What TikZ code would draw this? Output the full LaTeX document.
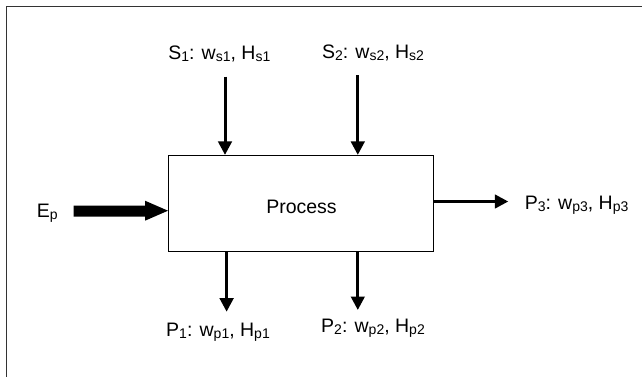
\documentclass[tikz,border=0pt]{standalone}
\usepackage{fontspec}
\setmainfont{Liberation Sans}
\usetikzlibrary{arrows.meta}
% lowered, smaller index text for the stream labels
\newcommand\sbs[1]{\raisebox{-0.12em}{\fontsize{14}{15}\selectfont #1}}
\begin{document}
\begin{tikzpicture}[x=1pt,y=-1pt,
  lab/.style={font=\fontsize{19.5}{22}\selectfont, inner sep=0pt},
  flow/.style={line width=3pt, -{Triangle[length=13.5pt,width=13.5pt]}},
  frame/.style={line width=1.3pt, black!80}]
\useasboundingbox (0,0) rectangle (642,376);
\clip (0,0) rectangle (642,376);
% outer frame (continues past the right and bottom edges)
\coordinate (fbl) at (6.5,380);
\coordinate (ftr) at (646,6.7);
\draw[frame] (fbl) |- (ftr);
% process block
\node[draw, line width=1pt, minimum width=265pt, minimum height=96pt, inner sep=0pt] (proc) at (301,203.4) {};
\node[lab, anchor=base] (proctext) at (301.5,213) {Process};
% supply streams
\node[lab, anchor=base] (s1) at (219.3,59) {S\sbs{1}: w\sbs{s1}, H\sbs{s1}};
\node[lab, anchor=base] (s2) at (373,58.5) {S\sbs{2}: w\sbs{s2}, H\sbs{s2}};
\coordinate (s1in) at (225,76.7);
\coordinate (s2in) at (357.8,75.3);
\draw[flow] (s1in) -- (s1in |- proc.north);
\draw[flow] (s2in) -- (s2in |- proc.north);
% product streams
\node[lab, anchor=base] (p1) at (218,336) {P\sbs{1}: w\sbs{p1}, H\sbs{p1}};
\node[lab, anchor=base] (p2) at (373,332) {P\sbs{2}: w\sbs{p2}, H\sbs{p2}};
\node[lab, anchor=base west] (p3) at (524.6,209) {P\sbs{3}: w\sbs{p3}, H\sbs{p3}};
\coordinate (p1out) at (226.6,311.7);
\coordinate (p2out) at (357.8,310);
\coordinate (p3out) at (508.3,201.5);
\draw[flow] (p1out |- proc.south) -- (p1out);
\draw[flow] (p2out |- proc.south) -- (p2out);
\draw[flow] (p3out -| proc.east) -- (p3out);
% energy input
\node[lab, anchor=base west] (ep) at (36.7,217) {E\sbs{p}};
\coordinate (eptip) at (proc.west |- 0,210.7);
\fill (73.5,205.7) -- (145,205.7) -- (145,200.7) -- (eptip)
      -- (145,220.7) -- (145,216.7) -- (73.5,216.7) -- cycle;
\end{tikzpicture}
\end{document}
